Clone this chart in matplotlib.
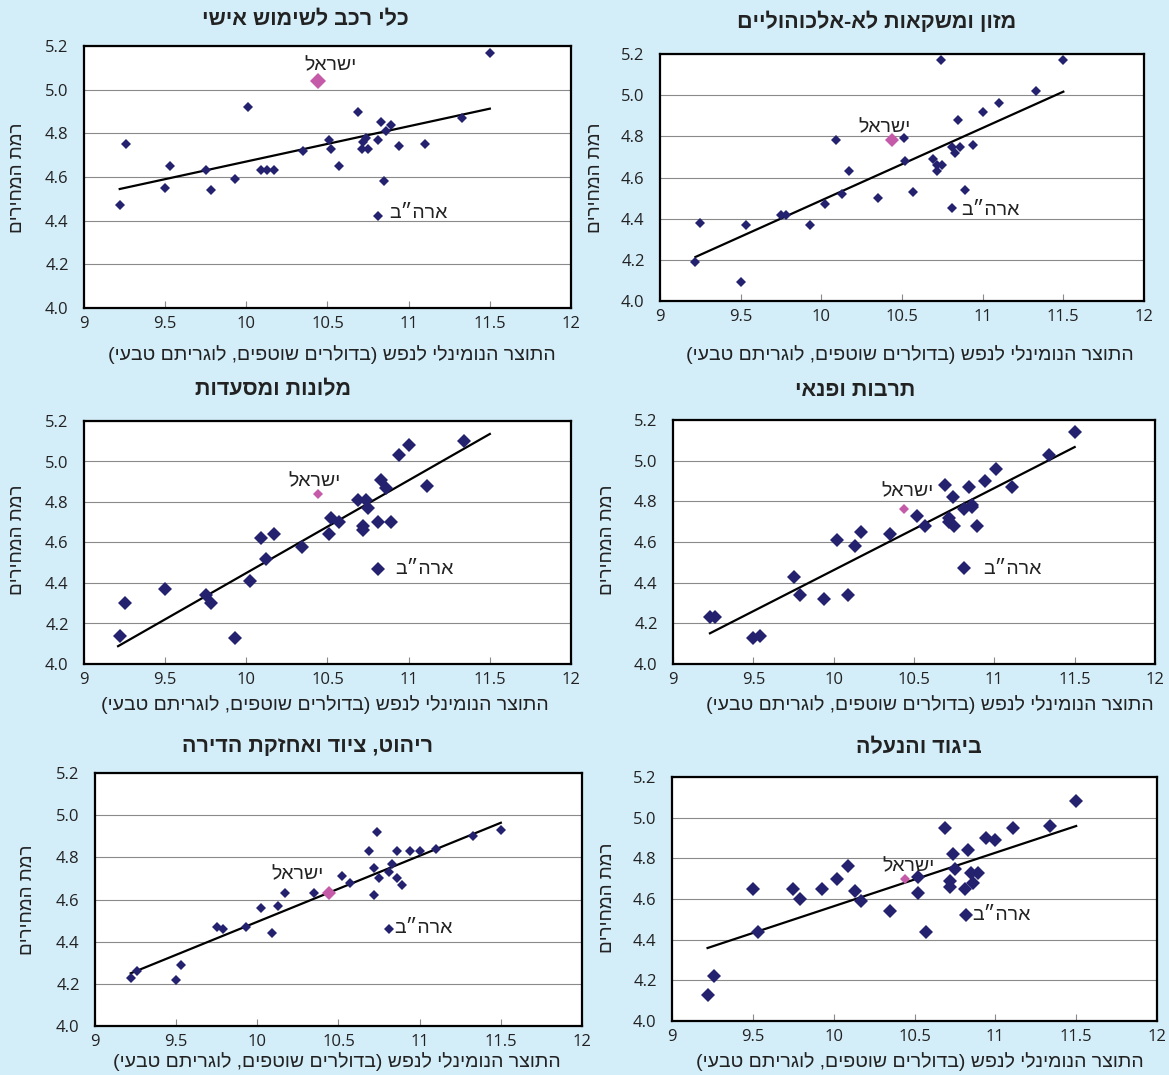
import matplotlib.pyplot as plt
from matplotlib.ticker import FormatStrFormatter, FuncFormatter

plt.rcParams['font.family'] = ['Liberation Sans', 'DejaVu Sans']

# --- data: log nominal GDP per capita vs log price level ---
titles = ['כלי רכב לשימוש אישי', 'מזון ומשקאות לא-אלכוהוליים',
          'מלונות ומסעדות', 'תרבות ופנאי',
          'ריהוט, ציוד ואחזקת הדירה', 'ביגוד והנעלה']

x_vehicles = [11.50, 10.01, 10.69, 10.83, 10.89, 11.33, 9.26, 10.51, 10.52, 10.74,
              10.72, 10.71, 10.75, 10.81, 10.86, 10.94, 11.10, 10.35, 9.53, 9.50,
              9.75, 9.78, 9.93, 10.09, 10.13, 10.17, 10.57, 9.22, 10.85, 10.81]
y_vehicles = [5.17, 4.92, 4.90, 4.85, 4.84, 4.87, 4.75, 4.77, 4.73, 4.78,
              4.76, 4.73, 4.73, 4.77, 4.81, 4.74, 4.75, 4.72, 4.65, 4.55,
              4.63, 4.54, 4.59, 4.63, 4.63, 4.63, 4.65, 4.47, 4.58, 4.42]

x_food = [10.74, 11.50, 11.33, 11.10, 11.00, 10.85, 10.09, 10.51, 10.94, 10.81,
          10.86, 10.83, 10.52, 10.69, 10.72, 10.75, 10.72, 10.17, 10.57, 10.89,
          10.13, 10.35, 10.02, 9.75, 9.78, 9.25, 9.53, 9.93, 9.22, 9.50, 10.81]
y_food = [5.17, 5.17, 5.02, 4.96, 4.92, 4.88, 4.78, 4.79, 4.76, 4.75,
          4.75, 4.72, 4.68, 4.69, 4.66, 4.66, 4.63, 4.63, 4.53, 4.54,
          4.52, 4.50, 4.47, 4.42, 4.42, 4.38, 4.37, 4.37, 4.19, 4.09, 4.45]

x_hotels = [11.34, 11.00, 10.94, 10.83, 10.86, 11.11, 10.69, 10.74, 10.75, 10.52,
            10.57, 10.81, 10.89, 10.72, 10.72, 10.51, 10.09, 10.17, 10.34, 10.12,
            10.81, 10.02, 9.50, 9.75, 9.78, 9.25, 9.22, 9.93]
y_hotels = [5.10, 5.08, 5.03, 4.91, 4.87, 4.88, 4.81, 4.81, 4.77, 4.72,
            4.70, 4.70, 4.70, 4.68, 4.66, 4.64, 4.62, 4.64, 4.58, 4.52,
            4.47, 4.41, 4.37, 4.34, 4.30, 4.30, 4.14, 4.13]

x_culture = [11.50, 11.34, 11.01, 10.94, 10.69, 10.84, 11.11, 10.74, 10.86, 10.86,
             10.81, 10.52, 10.72, 10.72, 10.75, 10.57, 10.89, 10.17, 10.35, 10.02,
             10.13, 10.81, 9.75, 9.79, 9.94, 10.09, 9.23, 9.26, 9.50, 9.54]
y_culture = [5.14, 5.03, 4.96, 4.90, 4.88, 4.87, 4.87, 4.82, 4.78, 4.77,
             4.76, 4.73, 4.72, 4.70, 4.68, 4.68, 4.68, 4.65, 4.64, 4.61,
             4.58, 4.47, 4.43, 4.34, 4.32, 4.34, 4.23, 4.23, 4.13, 4.14]

x_furniture = [11.50, 10.74, 11.33, 10.69, 10.86, 10.94, 11.00, 11.10, 10.83, 10.72,
               10.81, 10.52, 10.75, 10.86, 10.57, 10.89, 10.17, 10.35, 10.72, 10.13,
               10.02, 9.75, 9.79, 9.93, 10.09, 10.81, 9.53, 9.26, 9.22, 9.50]
y_furniture = [4.93, 4.92, 4.90, 4.83, 4.83, 4.83, 4.83, 4.84, 4.77, 4.75,
               4.73, 4.71, 4.70, 4.70, 4.68, 4.67, 4.63, 4.63, 4.62, 4.57,
               4.56, 4.47, 4.46, 4.47, 4.44, 4.46, 4.29, 4.26, 4.23, 4.22]

x_clothing = [11.50, 10.69, 11.11, 11.34, 10.94, 11.00, 10.83, 10.74, 10.75, 10.09,
              10.85, 10.89, 10.02, 10.52, 10.72, 10.86, 10.72, 9.50, 9.75, 9.93,
              10.13, 10.81, 10.52, 9.79, 10.17, 10.35, 10.82, 9.53, 10.57, 9.26, 9.22]
y_clothing = [5.08, 4.95, 4.95, 4.96, 4.90, 4.89, 4.84, 4.82, 4.75, 4.76,
              4.73, 4.73, 4.70, 4.71, 4.69, 4.68, 4.66, 4.65, 4.65, 4.65,
              4.64, 4.65, 4.63, 4.60, 4.59, 4.54, 4.52, 4.44, 4.44, 4.22, 4.13]

israel_x = [10.44, 10.44, 10.44, 10.44, 10.44, 10.44]
israel_y = [5.04, 4.78, 4.84, 4.76, 4.63, 4.70]

trend_x = [(9.22, 11.50), (9.22, 11.50), (9.21, 11.50),
           (9.23, 11.50), (9.22, 11.50), (9.22, 11.50)]
trend_y = [(4.545, 4.913), (4.214, 5.017), (4.088, 5.136),
           (4.151, 5.067), (4.250, 4.964), (4.359, 4.959)]

xs = [x_vehicles, x_food, x_hotels, x_culture, x_furniture, x_clothing]
ys = [y_vehicles, y_food, y_hotels, y_culture, y_furniture, y_clothing]

# label anchors (data coords): Israel text centre, USA text left edge
isr_lbl = [(10.52, 5.11), (10.39, 4.84), (10.42, 4.90), (10.46, 4.845), (10.25, 4.716), (10.46, 4.76)]
usa_lbl = [(10.88, 4.435), (10.87, 4.442), (10.92, 4.466), (10.93, 4.466), (10.845, 4.463), (10.86, 4.521)]

XLABEL = 'התוצר הנומינלי לנפש (בדולרים שוטפים, לוגריתם טבעי)'
YLABEL = 'רמת המחירים'

# --- layout in pixels ---
W, H = 1169, 1075
BG = '#D3EDF9'
NAVY = '#24226F'
PINK = '#C55AA8'

boxes = [(84, 46, 571, 308), (660, 54, 1144, 301),
         (84, 421, 571, 664), (673, 420, 1155, 664),
         (95, 773, 582, 1026), (672, 777, 1157, 1021)]
title_pos = [(305, 20), (877, 22), (273, 390), (855, 390), (307, 746), (919, 748)]
xlabel_pos = [(332, 355), (910, 355), (325, 705), (930, 705), (337, 1062), (920, 1062)]
ylabel_pos = [(18, 178), (595, 178), (18, 540), (607, 540), (28, 900), (607, 898)]
msize = [5, 5, 7, 6.7, 5, 6.7]
isr_size = [7.7, 7, 5.3, 5.3, 7, 5.3]


def heb(s):
    # matplotlib lays text out left to right, so reverse Hebrew by hand
    return s[::-1].translate(str.maketrans('()', ')('))


def fx(px):
    return px / W


def fy(py):
    return 1 - py / H


fig = plt.figure(figsize=(W / 100, H / 100), dpi=100, facecolor=BG)

for i in range(6):
    l, t, r, b = boxes[i]
    ax = fig.add_axes([fx(l), fy(b), (r - l) / W, (b - t) / H])
    ax.set_facecolor('white')

    ax.grid(axis='y', color='#8a8a8a', linewidth=0.8, zorder=0)
    ax.plot(trend_x[i], trend_y[i], color='black', linewidth=1.6, zorder=2)
    ax.plot(xs[i], ys[i], linestyle='none', marker='D', markersize=msize[i],
            color=NAVY, markeredgewidth=0, zorder=3)
    ax.plot(israel_x[i], israel_y[i], linestyle='none', marker='D', markersize=isr_size[i],
            color=PINK, markeredgewidth=0, zorder=4)

    ax.text(isr_lbl[i][0], isr_lbl[i][1], heb('ישראל'), ha='center', va='center',
            fontsize=14, color='#222222', zorder=5)
    ax.text(usa_lbl[i][0], usa_lbl[i][1], heb('ארה״ב'), ha='left', va='center',
            fontsize=14, color='#222222', zorder=5)

    ax.set_xlim(9, 12)
    ax.set_ylim(4.0, 5.2)
    ax.set_xticks([9, 9.5, 10, 10.5, 11, 11.5, 12])
    ax.set_yticks([4.0, 4.2, 4.4, 4.6, 4.8, 5.0, 5.2])
    ax.xaxis.set_major_formatter(FuncFormatter(lambda v, p: f'{v:g}'))
    ax.yaxis.set_major_formatter(FormatStrFormatter('%.1f'))
    ax.tick_params(axis='x', direction='in', length=5, color='#8a8a8a', pad=6,
                   labelsize=12, labelcolor='#222222')
    ax.tick_params(axis='y', length=0, pad=11, labelsize=12, labelcolor='#222222')
    for lab in ax.get_xticklabels() + ax.get_yticklabels():
        lab.set_family(['Open Sans', 'DejaVu Sans'])
    for sp in ax.spines.values():
        sp.set_linewidth(1.6)
        sp.set_color('black')

    fig.text(fx(title_pos[i][0]), fy(title_pos[i][1]), heb(titles[i]), ha='center', va='center',
             fontsize=15.5, fontweight='bold', color='#222222')
    fig.text(fx(xlabel_pos[i][0]), fy(xlabel_pos[i][1]), heb(XLABEL), ha='center', va='center',
             fontsize=14, color='#222222')
    fig.text(fx(ylabel_pos[i][0]), fy(ylabel_pos[i][1]), heb(YLABEL), ha='center', va='center',
             rotation=90, fontsize=13.5, color='#222222')

fig.savefig('out.png', dpi=100, facecolor=BG)
